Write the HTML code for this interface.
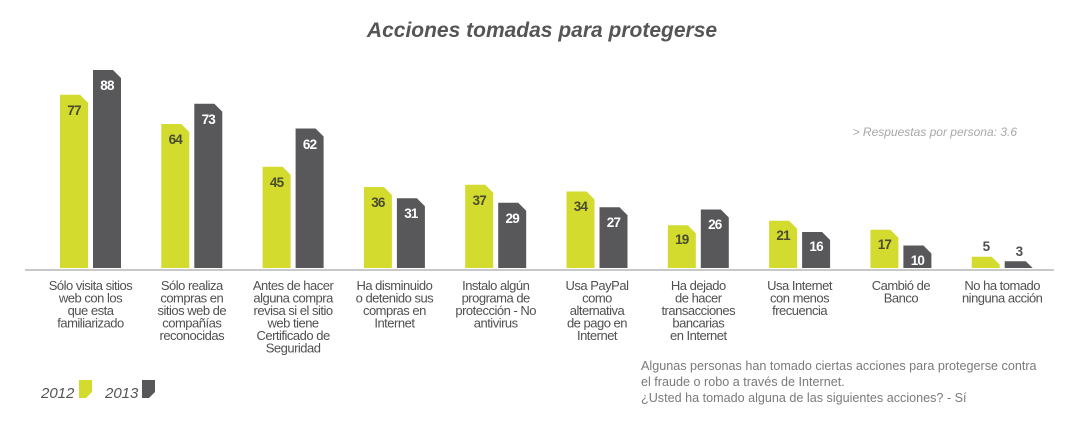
<!DOCTYPE html>
<html><head><meta charset="utf-8"><style>
html,body{margin:0;padding:0;background:#fff;}
svg{display:block;font-family:"Liberation Sans",sans-serif;}
.l{font-size:13px;fill:#505050;text-anchor:middle;letter-spacing:-0.5px;}
.ng{font-size:13.5px;font-weight:bold;fill:#4b4b30;text-anchor:middle;letter-spacing:-0.8px;}
.nd{font-size:13.5px;font-weight:bold;fill:#fff;text-anchor:middle;letter-spacing:-0.8px;}
.g{fill:#d2db2e;} .d{fill:#58585a;}
</style></head><body>
<svg width="1085" height="425" viewBox="0 0 1085 425">
<text x="542" y="37" font-size="21" font-style="italic" font-weight="bold" fill="#555" text-anchor="middle">Acciones tomadas para protegerse</text>
<text x="1017" y="136" font-size="12" font-style="italic" fill="#a8a8a8" text-anchor="end">&gt; Respuestas por persona: 3.6</text>
<line x1="25" y1="270" x2="1054" y2="270" stroke="#c8c8c8" stroke-width="2"/>

<path class="g" d="M60,94.75 H80 L88,102.75 V268 H60Z"/><text class="ng" x="74" y="115">77</text>
<path class="d" d="M93,70 H113 L121,78 V268 H93Z"/><text class="nd" x="107" y="90">88</text>
<path class="g" d="M161.3,124 H181.3 L189.3,132 V268 H161.3Z"/><text class="ng" x="175.3" y="144">64</text>
<path class="d" d="M194.3,103.75 H214.3 L222.3,111.75 V268 H194.3Z"/><text class="nd" x="208.3" y="124">73</text>
<path class="g" d="M262.6,166.75 H282.6 L290.6,174.75 V268 H262.6Z"/><text class="ng" x="276.6" y="187">45</text>
<path class="d" d="M295.6,128.5 H315.6 L323.6,136.5 V268 H295.6Z"/><text class="nd" x="309.6" y="149">62</text>
<path class="g" d="M363.9,187 H383.9 L391.9,195 V268 H363.9Z"/><text class="ng" x="377.9" y="207">36</text>
<path class="d" d="M396.9,198.25 H416.9 L424.9,206.25 V268 H396.9Z"/><text class="nd" x="410.9" y="218">31</text>
<path class="g" d="M465.2,184.75 H485.2 L493.2,192.75 V268 H465.2Z"/><text class="ng" x="479.2" y="205">37</text>
<path class="d" d="M498.2,202.75 H518.2 L526.2,210.75 V268 H498.2Z"/><text class="nd" x="512.2" y="223">29</text>
<path class="g" d="M566.5,191.5 H586.5 L594.5,199.5 V268 H566.5Z"/><text class="ng" x="580.5" y="211">34</text>
<path class="d" d="M599.5,207.25 H619.5 L627.5,215.25 V268 H599.5Z"/><text class="nd" x="613.5" y="227">27</text>
<path class="g" d="M667.8,225.25 H687.8 L695.8,233.25 V268 H667.8Z"/><text class="ng" x="681.8" y="244">19</text>
<path class="d" d="M700.8,209.5 H720.8 L728.8,217.5 V268 H700.8Z"/><text class="nd" x="714.8" y="229">26</text>
<path class="g" d="M769.1,220.75 H789.1 L797.1,228.75 V268 H769.1Z"/><text class="ng" x="783.1" y="240">21</text>
<path class="d" d="M802.1,232 H822.1 L830.1,240 V268 H802.1Z"/><text class="nd" x="816.1" y="251">16</text>
<path class="g" d="M870.4,229.75 H890.4 L898.4,237.75 V268 H870.4Z"/><text class="ng" x="884.4" y="249">17</text>
<path class="d" d="M903.4,245.5 H923.4 L931.4,253.5 V268 H903.4Z"/><text class="nd" x="917.4" y="265">10</text>
<path class="g" d="M971.7,256.75 H991.7 L999.7,264.75 V268 H971.7Z"/><text class="ng" x="986" y="251" style="fill:#505050">5</text>
<path class="d" d="M1004.7,261.25 H1025.7 L1032.7,268 H1004.7Z"/><text class="ng" x="1019" y="256" style="fill:#505050">3</text>

<g class="l">
<text x="90.5" y="290">Sólo visita sitios</text><text x="90.5" y="302.5">web con los</text><text x="90.5" y="315">que esta</text><text x="90.5" y="327.5">familiarizado</text>
<text x="191.8" y="290">Sólo realiza</text><text x="191.8" y="302.5">compras en</text><text x="191.8" y="315">sitios web de</text><text x="191.8" y="327.5">compañías</text><text x="191.8" y="340">reconocidas</text>
<text x="293.1" y="290">Antes de hacer</text><text x="293.1" y="302.5">alguna compra</text><text x="293.1" y="315">revisa si el sitio</text><text x="293.1" y="327.5">web tiene</text><text x="293.1" y="340">Certificado de</text><text x="293.1" y="352.5">Seguridad</text>
<text x="394.4" y="290">Ha disminuido</text><text x="394.4" y="302.5">o detenido sus</text><text x="394.4" y="315">compras en</text><text x="394.4" y="327.5">Internet</text>
<text x="495.7" y="290">Instalo algún</text><text x="495.7" y="302.5">programa de</text><text x="495.7" y="315">protección - No</text><text x="495.7" y="327.5">antivirus</text>
<text x="597" y="290">Usa PayPal</text><text x="597" y="302.5">como</text><text x="597" y="315">alternativa</text><text x="597" y="327.5">de pago en</text><text x="597" y="340">Internet</text>
<text x="698.3" y="290">Ha dejado</text><text x="698.3" y="302.5">de hacer</text><text x="698.3" y="315">transacciones</text><text x="698.3" y="327.5">bancarias</text><text x="698.3" y="340">en Internet</text>
<text x="799.6" y="290">Usa Internet</text><text x="799.6" y="302.5">con menos</text><text x="799.6" y="315">frecuencia</text>
<text x="900.9" y="290">Cambió de</text><text x="900.9" y="302.5">Banco</text>
<text x="1002.2" y="290">No ha tomado</text><text x="1002.2" y="302.5">ninguna acción</text>
</g>

<g font-size="12.6" fill="#7a7a7a">
<text x="641" y="370">Algunas personas han tomado ciertas acciones para protegerse contra</text>
<text x="641" y="386">el fraude o robo a través de Internet.</text>
<text x="641" y="402">¿Usted ha tomado alguna de las siguientes acciones? -  Sí</text>
</g>

<text x="41" y="398" font-size="15" font-style="italic" fill="#555">2012</text>
<path class="g" d="M79,380 H92 V392 L86,398 H79Z"/>
<text x="105" y="398" font-size="15" font-style="italic" fill="#555">2013</text>
<path class="d" d="M142,380 H155 V392 L149,398 H142Z"/>
</svg>
</body></html>
